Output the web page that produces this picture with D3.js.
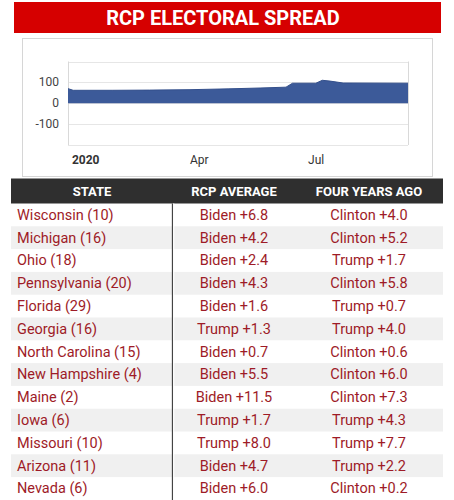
<!DOCTYPE html>
<html>
<head>
<meta charset="utf-8">
<script src="https://cdn.jsdelivr.net/npm/d3@7/dist/d3.min.js"></script>
<style>
  html, body { margin: 0; padding: 0; background: #fff; }
  svg { display: block; font-family: Roboto, "Noto Sans", sans-serif; }
</style>
</head>
<body>
<svg id="chart" width="454" height="500"></svg>
<script>
// ---- Data ----
const title = "RCP ELECTORAL SPREAD";
const spreadDates = ["2019-12-29","2020-01-02","2020-02-01","2020-03-01","2020-04-01","2020-05-01","2020-05-25","2020-06-14","2020-06-19","2020-07-07","2020-07-12","2020-07-18","2020-07-28","2020-09-16"];
const spreadValues = [70, 62, 62, 63, 65, 69, 73, 77, 96, 96, 110, 106, 97, 96];
const yTicks = [100, 0, -100];
const xTickDates = ["2020-01-01","2020-04-01","2020-07-01"];
const xTickLabels = ["2020","Apr","Jul"];

const headers = ["STATE","RCP AVERAGE","FOUR YEARS AGO"];
const states = ["Wisconsin (10)","Michigan (16)","Ohio (18)","Pennsylvania (20)","Florida (29)","Georgia (16)","North Carolina (15)","New Hampshire (4)","Maine (2)","Iowa (6)","Missouri (10)","Arizona (11)","Nevada (6)"];
const rcpAverage = ["Biden +6.8","Biden +4.2","Biden +2.4","Biden +4.3","Biden +1.6","Trump +1.3","Biden +0.7","Biden +5.5","Biden +11.5","Trump +1.7","Trump +8.0","Biden +4.7","Biden +6.0"];
const fourYearsAgo = ["Clinton +4.0","Clinton +5.2","Trump +1.7","Clinton +5.8","Trump +0.7","Trump +4.0","Clinton +0.6","Clinton +6.0","Clinton +7.3","Trump +4.3","Trump +7.7","Trump +2.2","Clinton +0.2"];

// ---- Drawing ----
const svg = d3.select("#chart");
const parse = d3.utcParse("%Y-%m-%d");

// Banner
svg.append("rect").attr("x", 14).attr("y", 2).attr("width", 427).attr("height", 31).attr("fill", "#d60000");
svg.append("text").attr("x", 223).attr("y", 18).attr("text-anchor", "middle").attr("dominant-baseline", "central")
  .attr("fill", "#fff").attr("font-weight", "bold").attr("font-size", 20).text(title);

// Chart box
svg.append("rect").attr("x", 22.5).attr("y", 38.5).attr("width", 410).attr("height", 138)
  .attr("fill", "#fff").attr("stroke", "#d6d6d6");

const plot = { left: 68, right: 408, top: 61.5, bottom: 145 };
const x = d3.scaleUtc().domain([parse("2019-12-29"), parse("2020-09-16")]).range([plot.left, plot.right]);
const y = d3.scaleLinear().domain([-200, 200]).range([plot.bottom, plot.top]);

const g = svg.append("g");
// gridlines
g.selectAll("line.grid").data([200, 100, 0, -100, -200]).join("line")
  .attr("x1", plot.left).attr("x2", plot.right)
  .attr("y1", d => Math.round(y(d)) + 0.5).attr("y2", d => Math.round(y(d)) + 0.5)
  .attr("stroke", "#e6e6e6");
// left and right border
[plot.left, plot.right].forEach(px => {
  g.append("line").attr("x1", px + 0.5).attr("x2", px + 0.5).attr("y1", plot.top).attr("y2", plot.bottom)
    .attr("stroke", "#d9d9d9");
});

const series = spreadDates.map((d, i) => ({ date: parse(d), value: spreadValues[i] }));
const area = d3.area().x(d => x(d.date)).y0(y(0)).y1(d => y(d.value)).curve(d3.curveLinear);
g.append("path").datum(series).attr("d", area).attr("fill", "#3c5a99");
const line = d3.line().x(d => x(d.date)).y(d => y(d.value)).curve(d3.curveLinear);
g.append("path").datum(series).attr("d", line).attr("fill", "none").attr("stroke", "#34508c").attr("stroke-width", 1);

// y labels
g.selectAll("text.ylab").data(yTicks).join("text")
  .attr("x", 59).attr("y", d => y(d)).attr("text-anchor", "end").attr("dominant-baseline", "central")
  .attr("font-size", 12).attr("fill", "#444").text(d => d);

// x labels
g.selectAll("text.xlab").data(xTickDates).join("text")
  .attr("x", d => x(parse(d))).attr("y", 160).attr("dominant-baseline", "central")
  .attr("font-size", 12).attr("fill", "#333")
  .attr("font-weight", (d, i) => i === 0 ? "bold" : "normal")
  .text((d, i) => xTickLabels[i]);

// Table
const tbl = { left: 11, right: 443, headTop: 178.5, headBottom: 203.5, rowH: 22.8, divider: 172.5 };
const colCenters = [92, 234, 369];
svg.append("rect").attr("x", tbl.left).attr("y", tbl.headTop).attr("width", tbl.right - tbl.left)
  .attr("height", tbl.headBottom - tbl.headTop).attr("fill", "#2f2f2f");
svg.selectAll("text.head").data(headers).join("text")
  .attr("x", (d, i) => colCenters[i]).attr("y", (tbl.headTop + tbl.headBottom) / 2)
  .attr("text-anchor", "middle").attr("dominant-baseline", "central")
  .attr("fill", "#fff").attr("font-weight", "bold").attr("font-size", 13).text(d => d);

const rowY = d3.scaleBand().domain(states).range([tbl.headBottom, tbl.headBottom + tbl.rowH * states.length]);
const rows = svg.selectAll("g.row").data(states).join("g").attr("transform", d => `translate(0,${rowY(d)})`);
rows.filter((d, i) => i % 2 === 1).append("rect")
  .attr("x", tbl.left).attr("y", 0).attr("width", tbl.right - tbl.left).attr("height", rowY.bandwidth())
  .attr("fill", "#f0f0f0");
const txtColor = "#9e1b27";
rows.append("text").attr("x", 17).attr("y", rowY.bandwidth() / 2 + 0.5).attr("dominant-baseline", "central")
  .attr("font-size", 14.5).attr("fill", txtColor).text(d => d);
rows.append("text").attr("x", colCenters[1]).attr("y", rowY.bandwidth() / 2 + 0.5).attr("dominant-baseline", "central")
  .attr("text-anchor", "middle").attr("font-size", 14.5).attr("fill", txtColor).text((d, i) => rcpAverage[i]);
rows.append("text").attr("x", colCenters[2]).attr("y", rowY.bandwidth() / 2 + 0.5).attr("dominant-baseline", "central")
  .attr("text-anchor", "middle").attr("font-size", 14.5).attr("fill", txtColor).text((d, i) => fourYearsAgo[i]);

svg.append("line").attr("x1", tbl.divider).attr("x2", tbl.divider).attr("y1", tbl.headBottom).attr("y2", 500)
  .attr("stroke", "#444").attr("stroke-width", 1.3);
// white gap right of divider on grey rows
svg.append("line").attr("x1", tbl.divider + 1.2).attr("x2", tbl.divider + 1.2).attr("y1", tbl.headBottom).attr("y2", 500)
  .attr("stroke", "#fff").attr("stroke-width", 1.2);
</script>
</body>
</html>
